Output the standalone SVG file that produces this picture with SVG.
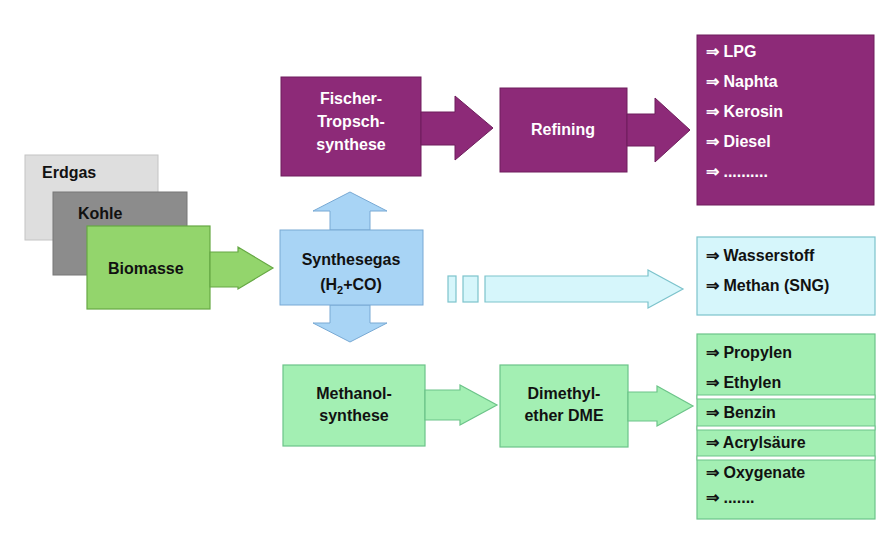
<svg xmlns="http://www.w3.org/2000/svg" width="890" height="545" viewBox="0 0 890 545">
<style>
text{font-family:"Liberation Sans",Arial,sans-serif;font-weight:bold;font-size:16px}
.w{fill:#fff}.k{fill:#111}
.pur{fill:#8d2a78;stroke:#6e1d5c;stroke-width:1}
.grn{fill:#a3efb3;stroke:#6cc489;stroke-width:1.2}
.cy{fill:#d6f6fb;stroke:#7cc3cc;stroke-width:1.2}
.lg{fill:#93d56c;stroke:#66a844;stroke-width:1.2}
</style>
<rect width="890" height="545" fill="#fff"/>
<g id="erdgas"><rect x="25" y="155" width="133" height="85" fill="#dedede" stroke="#c4c4c4"/><text x="42" y="178" class="k" font-size="17">Erdgas</text></g>
<g id="kohle"><rect x="53" y="192" width="134" height="83" fill="#8c8c8c" stroke="#777"/><text x="78" y="219" class="k" font-size="17">Kohle</text></g>
<g id="biomasse"><rect x="87" y="226" width="123" height="83" class="lg"/><text x="108" y="274" class="k" font-size="17">Biomasse</text></g>
<g id="synthesegas">
<path d="M350 192 L387 211 L370 211 L370 230 L330 230 L330 211 L313 211 Z" fill="#a8d4f5" stroke="#78a9d4"/>
<path d="M350 342 L387 323 L370 323 L370 305 L330 305 L330 323 L313 323 Z" fill="#a8d4f5" stroke="#78a9d4"/>
<rect x="280" y="230" width="143" height="75" fill="#a8d4f5" stroke="#78a9d4"/>
<text x="351" y="265" class="k" font-size="17" text-anchor="middle">Synthesegas</text>
<text x="351" y="290" class="k" font-weight="normal" text-anchor="middle">(H<tspan font-size="11" dy="4">2</tspan><tspan dy="-4">+CO)</tspan></text>
</g>
<g id="fischer"><rect x="281" y="77" width="140" height="99" class="pur"/><text class="w" text-anchor="middle" x="351" y="104">Fischer-</text><text class="w" text-anchor="middle" x="351" y="127">Tropsch-</text><text class="w" text-anchor="middle" x="351" y="150">synthese</text></g>
<g id="refining"><rect x="500" y="88" width="127" height="84" class="pur"/><text class="w" x="563" y="135" text-anchor="middle">Refining</text></g>
<g id="fuels"><rect x="697" y="35" width="177" height="170" class="pur"/>
<text class="w" x="706" y="57">⇒ LPG</text><text class="w" x="706" y="87">⇒ Naphta</text><text class="w" x="706" y="117">⇒ Kerosin</text><text class="w" x="706" y="147">⇒ Diesel</text><text class="w" x="706" y="177">⇒ ..........</text></g>
<g id="gase"><rect x="697" y="237" width="178" height="78" class="cy"/><text class="k" x="706" y="261">⇒ Wasserstoff</text><text class="k" x="706" y="291">⇒ Methan (SNG)</text></g>
<g id="methanol"><rect x="283" y="365" width="142" height="81" class="grn"/><text class="k" text-anchor="middle" x="354" y="399">Methanol-</text><text class="k" text-anchor="middle" x="354" y="421">synthese</text></g>
<g id="dme"><rect x="500" y="365" width="128" height="82" class="grn"/><text class="k" text-anchor="middle" x="564" y="399">Dimethyl-</text><text class="k" text-anchor="middle" x="564" y="421">ether DME</text></g>
<g id="chem"><rect x="697" y="334" width="178" height="185" class="grn"/>
<g fill="#fff" stroke="#6cc489"><rect x="697" y="395" width="178" height="4"/><rect x="697" y="426" width="178" height="4"/><rect x="697" y="456" width="178" height="4"/></g>
<text class="k" x="706" y="358">⇒ Propylen</text><text class="k" x="706" y="388">⇒ Ethylen</text><text class="k" x="706" y="418">⇒ Benzin</text><text class="k" x="706" y="448">⇒ Acrylsäure</text><text class="k" x="706" y="478">⇒ Oxygenate</text><text class="k" x="706" y="503">⇒ .......</text></g>
<g id="connectors">
<path d="M210 252 L238 252 L238 247 L273 268 L238 289 L238 287 L210 287 Z" class="lg"/>
<path d="M421 112 L455 112 L455 96 L493 128 L455 160 L455 145 L421 145 Z" class="pur"/>
<path d="M627 114 L655 114 L655 98 L690 130 L655 162 L655 146 L627 146 Z" class="pur"/>
<rect x="448" y="276" width="8" height="26" class="cy"/><rect x="463" y="276" width="15" height="26" class="cy"/>
<path d="M485 276 L648 276 L648 270 L683 289 L648 308 L648 302 L485 302 Z" class="cy"/>
<path d="M425 390 L460 390 L460 385 L497 405 L460 425 L460 420 L425 420 Z" class="grn"/>
<path d="M628 392 L657 392 L657 386 L693 406 L657 426 L657 421 L628 421 Z" class="grn"/>
</g>
</svg>
